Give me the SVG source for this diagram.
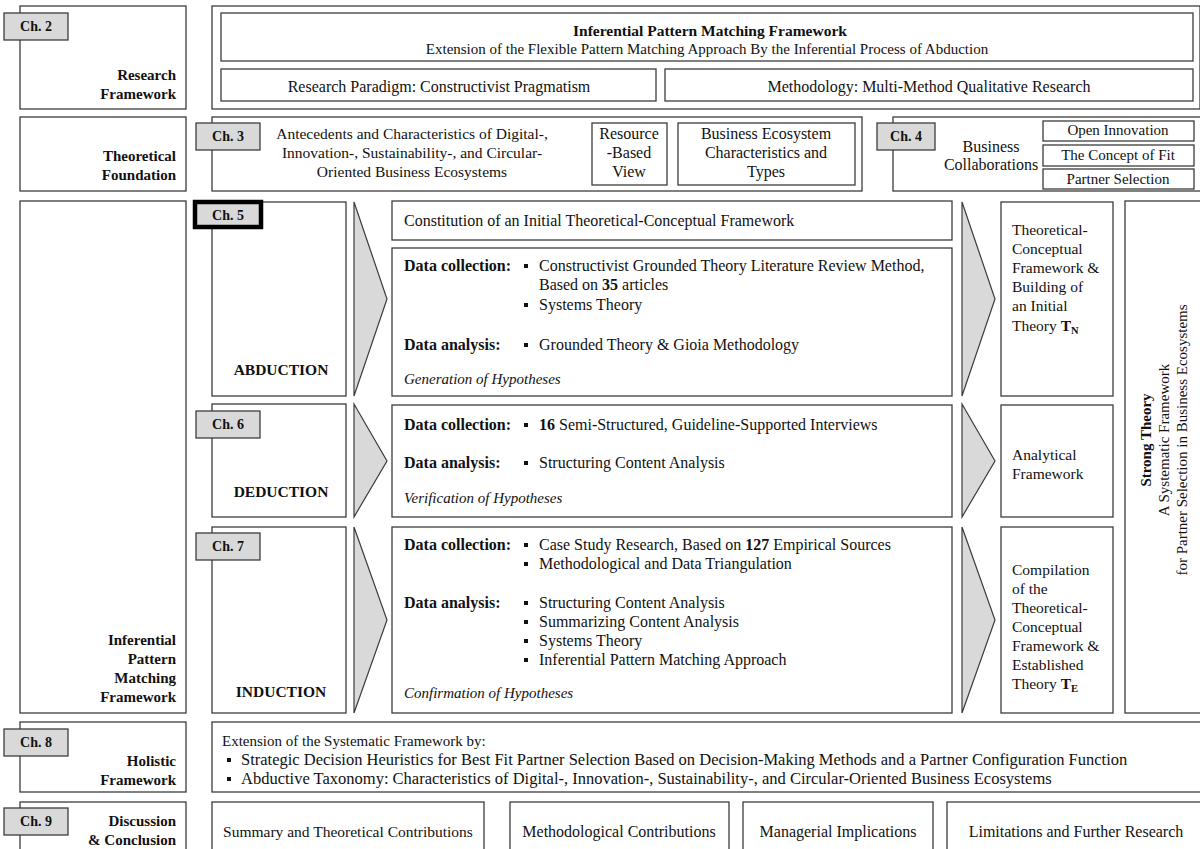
<svg xmlns="http://www.w3.org/2000/svg" width="1200" height="849" viewBox="0 0 1200 849">
  <style>
    .box { fill: #ffffff; stroke: #3c3c3c; stroke-width: 1.3; }
    .tab { fill: #d9d9d9; stroke: #3c3c3c; stroke-width: 1.3; }
    .tabhl { fill: #d9d9d9; stroke: #000000; stroke-width: 4.5; }
    .chev { fill: #d9d9d9; stroke: #3c3c3c; stroke-width: 1.2; }
    .dot { fill: #111111; }
    text { font-family: "Liberation Serif", "Times New Roman", serif; font-size: 15px; fill: #111111; }
    .m { font-size: 16px; }
    .s { font-size: 15.5px; }
    .l { font-size: 16.5px; }
    .b { font-weight: bold; }
    .lbl { font-weight: bold; text-anchor: end; }
    .c { text-anchor: middle; }
    .tt { font-weight: bold; font-size: 14px; text-anchor: middle; }
    .i { font-style: italic; }
    .sub { font-size: 10.5px; font-weight: bold; }
  </style>
  <defs>
    <rect id="bullet" x="0" y="0" width="4" height="4" class="dot"/>
  </defs>
  <rect x="0" y="0" width="1200" height="849" fill="#ffffff"/>

  <!-- Row: research framework -->
  <g id="research-framework-label">
    <rect class="box" x="20" y="6" width="166" height="103"/>
    <rect class="tab" x="4" y="13" width="64" height="27"/>
    <text class="tt" x="36" y="31">Ch. 2</text>
    <text class="lbl" x="176" y="80">Research</text>
    <text class="lbl" x="176" y="99">Framework</text>
  </g>
  <g id="research-framework">
    <rect class="box" x="212" y="6" width="988" height="103"/>
    <rect class="box" x="221" y="13" width="972" height="48"/>
    <text class="b c s" x="710" y="36">Inferential Pattern Matching Framework</text>
    <text class="c" x="707" y="54">Extension of the Flexible Pattern Matching Approach By the Inferential Process of Abduction</text>
  </g>
  <g id="paradigm">
    <rect class="box" x="221" y="69" width="435" height="32"/>
    <text class="c m" x="439" y="92">Research Paradigm: Constructivist Pragmatism</text>
  </g>
  <g id="methodology">
    <rect class="box" x="665" y="69" width="528" height="32"/>
    <text class="c m" x="929" y="92">Methodology: Multi-Method Qualitative Research</text>
  </g>

  <!-- Row: theoretical foundation -->
  <g id="theoretical-foundation-label">
    <rect class="box" x="20" y="117" width="166" height="74"/>
    <text class="lbl" x="176" y="161">Theoretical</text>
    <text class="lbl" x="176" y="180">Foundation</text>
  </g>
  <g id="ch3">
    <rect class="box" x="212" y="117" width="650" height="74"/>
    <rect class="tab" x="196" y="123" width="64" height="27"/>
    <text class="tt" x="228" y="141">Ch. 3</text>
    <text class="c s" x="412" y="139">Antecedents and Characteristics of Digital-,</text>
    <text class="c s" x="412" y="158">Innovation-, Sustainability-, and Circular-</text>
    <text class="c s" x="412" y="177">Oriented Business Ecosystems</text>
  </g>
  <g id="resource-based-view">
    <rect class="box" x="592" y="123" width="75" height="62"/>
    <text class="c m" x="629" y="139">Resource</text>
    <text class="c m" x="629" y="158">-Based</text>
    <text class="c m" x="629" y="177">View</text>
  </g>
  <g id="ecosystem-types">
    <rect class="box" x="678" y="123" width="177" height="62"/>
    <text class="c m" x="766" y="139">Business Ecosystem</text>
    <text class="c m" x="766" y="158">Characteristics and</text>
    <text class="c m" x="766" y="177">Types</text>
  </g>
  <g id="ch4">
    <rect class="box" x="893" y="117" width="310" height="74"/>
    <rect class="tab" x="877" y="123" width="58" height="27"/>
    <text class="tt" x="906" y="141">Ch. 4</text>
    <text class="c m" x="991" y="152">Business</text>
    <text class="c m" x="991" y="170">Collaborations</text>
  </g>
  <g id="open-innovation">
    <rect class="box" x="1043" y="121" width="151" height="20"/>
    <text class="c" x="1118" y="135">Open Innovation</text>
  </g>
  <g id="concept-of-fit">
    <rect class="box" x="1043" y="145" width="151" height="21"/>
    <text class="c" x="1118" y="160">The Concept of Fit</text>
  </g>
  <g id="partner-selection">
    <rect class="box" x="1043" y="169" width="151" height="20"/>
    <text class="c" x="1118" y="184">Partner Selection</text>
  </g>

  <!-- Row: inferential pattern matching -->
  <g id="ipm-label">
    <rect class="box" x="20" y="201" width="166" height="512"/>
    <text class="lbl" x="176" y="645">Inferential</text>
    <text class="lbl" x="176" y="664">Pattern</text>
    <text class="lbl" x="176" y="683">Matching</text>
    <text class="lbl" x="176" y="702">Framework</text>
  </g>

  <g id="abduction">
    <rect class="box" x="212" y="202" width="134" height="194"/>
    <rect class="tabhl" x="195" y="202" width="66" height="25"/>
    <text class="tt" x="228" y="220">Ch. 5</text>
    <text class="b c s" x="281" y="375">ABDUCTION</text>
  </g>
  <g id="constitution">
    <rect class="box" x="392" y="201" width="560" height="39"/>
    <text class="m" x="404" y="226">Constitution of an Initial Theoretical-Conceptual Framework</text>
  </g>
  <g id="abduction-methods">
    <rect class="box" x="392" y="248" width="560" height="148"/>
    <text class="b m" x="404" y="271">Data collection:</text>
    <use href="#bullet" x="524" y="264"/>
    <text class="m" x="539" y="271">Constructivist Grounded Theory Literature Review Method,</text>
    <text class="m" x="539" y="290">Based on <tspan class="b">35</tspan> articles</text>
    <use href="#bullet" x="524" y="303"/>
    <text class="m" x="539" y="310">Systems Theory</text>
    <text class="b m" x="404" y="350">Data analysis:</text>
    <use href="#bullet" x="524" y="343"/>
    <text class="m" x="539" y="350">Grounded Theory &amp; Gioia Methodology</text>
    <text class="i" x="404" y="384">Generation of Hypotheses</text>
  </g>
  <g id="tn-theory">
    <rect class="box" x="1001" y="202" width="112" height="194"/>
    <text class="s" x="1012" y="235">Theoretical-</text>
    <text class="s" x="1012" y="254">Conceptual</text>
    <text class="s" x="1012" y="273">Framework &amp;</text>
    <text class="s" x="1012" y="292">Building of</text>
    <text class="s" x="1012" y="311">an Initial</text>
    <text class="s" x="1012" y="331">Theory <tspan class="b">T</tspan><tspan class="sub" dy="3">N</tspan></text>
  </g>

  <g id="deduction">
    <rect class="box" x="212" y="404" width="134" height="113"/>
    <rect class="tab" x="196" y="411" width="64" height="27"/>
    <text class="tt" x="228" y="429">Ch. 6</text>
    <text class="b c s" x="281" y="497">DEDUCTION</text>
  </g>
  <g id="deduction-methods">
    <rect class="box" x="392" y="405" width="560" height="112"/>
    <text class="b m" x="404" y="430">Data collection:</text>
    <use href="#bullet" x="524" y="423"/>
    <text class="m" x="539" y="430"><tspan class="b">16</tspan> Semi-Structured, Guideline-Supported Interviews</text>
    <text class="b m" x="404" y="468">Data analysis:</text>
    <use href="#bullet" x="524" y="461"/>
    <text class="m" x="539" y="468">Structuring Content Analysis</text>
    <text class="i" x="404" y="503">Verification of Hypotheses</text>
  </g>
  <g id="analytical-framework">
    <rect class="box" x="1001" y="405" width="112" height="112"/>
    <text class="s" x="1012" y="460">Analytical</text>
    <text class="s" x="1012" y="479">Framework</text>
  </g>

  <g id="induction">
    <rect class="box" x="212" y="527" width="134" height="186"/>
    <rect class="tab" x="196" y="533" width="64" height="27"/>
    <text class="tt" x="228" y="551">Ch. 7</text>
    <text class="b c s" x="281" y="697">INDUCTION</text>
  </g>
  <g id="induction-methods">
    <rect class="box" x="392" y="527" width="560" height="186"/>
    <text class="b m" x="404" y="550">Data collection:</text>
    <use href="#bullet" x="524" y="543"/>
    <text class="m" x="539" y="550">Case Study Research, Based on <tspan class="b">127</tspan> Empirical Sources</text>
    <use href="#bullet" x="524" y="562"/>
    <text class="m" x="539" y="569">Methodological and Data Triangulation</text>
    <text class="b m" x="404" y="608">Data analysis:</text>
    <use href="#bullet" x="524" y="601"/>
    <text class="m" x="539" y="608">Structuring Content Analysis</text>
    <use href="#bullet" x="524" y="620"/>
    <text class="m" x="539" y="627">Summarizing Content Analysis</text>
    <use href="#bullet" x="524" y="639"/>
    <text class="m" x="539" y="646">Systems Theory</text>
    <use href="#bullet" x="524" y="658"/>
    <text class="m" x="539" y="665">Inferential Pattern Matching Approach</text>
    <text class="i" x="404" y="698">Confirmation of Hypotheses</text>
  </g>
  <g id="te-theory">
    <rect class="box" x="1001" y="527" width="112" height="186"/>
    <text class="s" x="1012" y="575">Compilation</text>
    <text class="s" x="1012" y="594">of the</text>
    <text class="s" x="1012" y="613">Theoretical-</text>
    <text class="s" x="1012" y="632">Conceptual</text>
    <text class="s" x="1012" y="651">Framework &amp;</text>
    <text class="s" x="1012" y="670">Established</text>
    <text class="s" x="1012" y="689">Theory <tspan class="b">T</tspan><tspan class="sub" dy="3">E</tspan></text>
  </g>

  <g id="strong-theory">
    <rect class="box" x="1125" y="201" width="80" height="512"/>
    <text class="b c" transform="translate(1151 440) rotate(-90)">Strong Theory</text>
    <text class="c" transform="translate(1169 440) rotate(-90)">A Systematic Framework</text>
    <text class="c" transform="translate(1187 440) rotate(-90)">for Partner Selection in Business Ecosystems</text>
  </g>

  <!-- Flow arrows between the stages -->
  <g id="connectors">
    <polygon class="chev" points="354,202 387,299 354,396"/>
    <polygon class="chev" points="354,404 387,461 354,517"/>
    <polygon class="chev" points="354,527 387,620 354,713"/>
    <polygon class="chev" points="962,202 995,299 962,396"/>
    <polygon class="chev" points="962,404 995,461 962,517"/>
    <polygon class="chev" points="962,527 995,620 962,713"/>
  </g>

  <!-- Row: holistic framework -->
  <g id="holistic-label">
    <rect class="box" x="20" y="722" width="166" height="70"/>
    <rect class="tab" x="4" y="729" width="64" height="27"/>
    <text class="tt" x="36" y="747">Ch. 8</text>
    <text class="lbl" x="176" y="766">Holistic</text>
    <text class="lbl" x="176" y="785">Framework</text>
  </g>
  <g id="holistic-framework">
    <rect class="box" x="212" y="722" width="991" height="70"/>
    <text x="222" y="746">Extension of the Systematic Framework by:</text>
    <use href="#bullet" x="227" y="758"/>
    <text class="l" x="241" y="765">Strategic Decision Heuristics for Best Fit Partner Selection Based on Decision-Making Methods and a Partner Configuration Function</text>
    <use href="#bullet" x="227" y="777"/>
    <text class="l" x="241" y="784">Abductive Taxonomy: Characteristics of Digital-, Innovation-, Sustainability-, and Circular-Oriented Business Ecosystems</text>
  </g>

  <!-- Row: discussion and conclusion -->
  <g id="discussion-label">
    <rect class="box" x="20" y="802" width="166" height="60"/>
    <rect class="tab" x="4" y="808" width="64" height="27"/>
    <text class="tt" x="36" y="826">Ch. 9</text>
    <text class="lbl" x="176" y="826">Discussion</text>
    <text class="lbl" x="176" y="845">&amp; Conclusion</text>
  </g>
  <g id="summary">
    <rect class="box" x="212" y="802" width="272" height="60"/>
    <text class="c s" x="348" y="837">Summary and Theoretical Contributions</text>
  </g>
  <g id="methodological">
    <rect class="box" x="510" y="802" width="219" height="60"/>
    <text class="c m" x="619" y="837">Methodological Contributions</text>
  </g>
  <g id="managerial">
    <rect class="box" x="743" y="802" width="190" height="60"/>
    <text class="c m" x="838" y="837">Managerial Implications</text>
  </g>
  <g id="limitations">
    <rect class="box" x="947" y="802" width="260" height="60"/>
    <text class="c m" x="1076" y="837">Limitations and Further Research</text>
  </g>
</svg>
